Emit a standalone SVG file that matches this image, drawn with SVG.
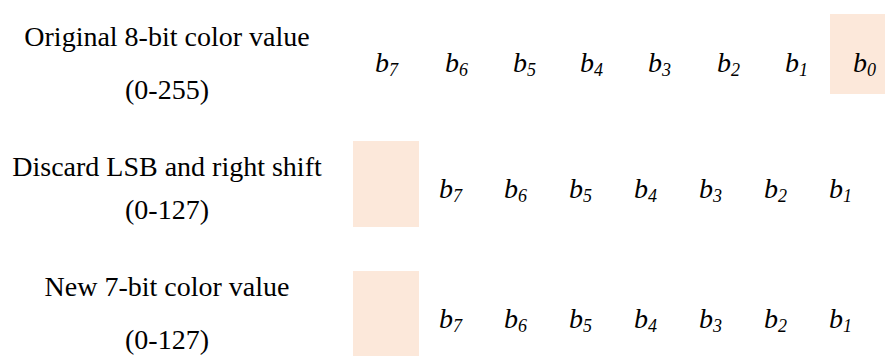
<svg xmlns="http://www.w3.org/2000/svg" width="885" height="358" viewBox="0 0 885 358">
<style>
.lbl{font-size:28px;fill:#000;text-anchor:middle}
.bit{font-size:28px;font-style:italic;fill:#000}
.sub{font-size:18px}
.hl{fill:#fce8da}
</style>
<rect width="885" height="358" fill="#fff"/>
<g id="row1" font-family="Liberation Serif">
<text class="lbl" x="167" y="46">Original 8-bit color value</text>
<text class="lbl" x="167" y="99">(0-255)</text>
<rect class="hl" x="830" y="14" width="55" height="80"/>
<text class="bit" x="375" y="72">b<tspan class="sub" dy="4">7</tspan></text>
<text class="bit" x="445" y="72">b<tspan class="sub" dy="4">6</tspan></text>
<text class="bit" x="513" y="72">b<tspan class="sub" dy="4">5</tspan></text>
<text class="bit" x="580" y="72">b<tspan class="sub" dy="4">4</tspan></text>
<text class="bit" x="648" y="72">b<tspan class="sub" dy="4">3</tspan></text>
<text class="bit" x="717" y="72">b<tspan class="sub" dy="4">2</tspan></text>
<text class="bit" x="785" y="72">b<tspan class="sub" dy="4">1</tspan></text>
<text class="bit" x="853" y="72">b<tspan class="sub" dy="4">0</tspan></text>
</g>
<g id="row2" font-family="Liberation Serif">
<text class="lbl" x="167" y="176">Discard LSB and right shift</text>
<text class="lbl" x="167" y="219">(0-127)</text>
<rect class="hl" x="353" y="141" width="66" height="86"/>
<text class="bit" x="439" y="198">b<tspan class="sub" dy="4">7</tspan></text>
<text class="bit" x="504" y="198">b<tspan class="sub" dy="4">6</tspan></text>
<text class="bit" x="569" y="198">b<tspan class="sub" dy="4">5</tspan></text>
<text class="bit" x="634" y="198">b<tspan class="sub" dy="4">4</tspan></text>
<text class="bit" x="699" y="198">b<tspan class="sub" dy="4">3</tspan></text>
<text class="bit" x="764" y="198">b<tspan class="sub" dy="4">2</tspan></text>
<text class="bit" x="829" y="198">b<tspan class="sub" dy="4">1</tspan></text>
</g>
<g id="row3" font-family="Liberation Serif">
<text class="lbl" x="167" y="296">New 7-bit color value</text>
<text class="lbl" x="167" y="349">(0-127)</text>
<rect class="hl" x="353" y="271" width="66" height="85"/>
<text class="bit" x="439" y="328">b<tspan class="sub" dy="4">7</tspan></text>
<text class="bit" x="504" y="328">b<tspan class="sub" dy="4">6</tspan></text>
<text class="bit" x="569" y="328">b<tspan class="sub" dy="4">5</tspan></text>
<text class="bit" x="634" y="328">b<tspan class="sub" dy="4">4</tspan></text>
<text class="bit" x="699" y="328">b<tspan class="sub" dy="4">3</tspan></text>
<text class="bit" x="764" y="328">b<tspan class="sub" dy="4">2</tspan></text>
<text class="bit" x="829" y="328">b<tspan class="sub" dy="4">1</tspan></text>
</g>
<g id="connectors"></g>
</svg>
